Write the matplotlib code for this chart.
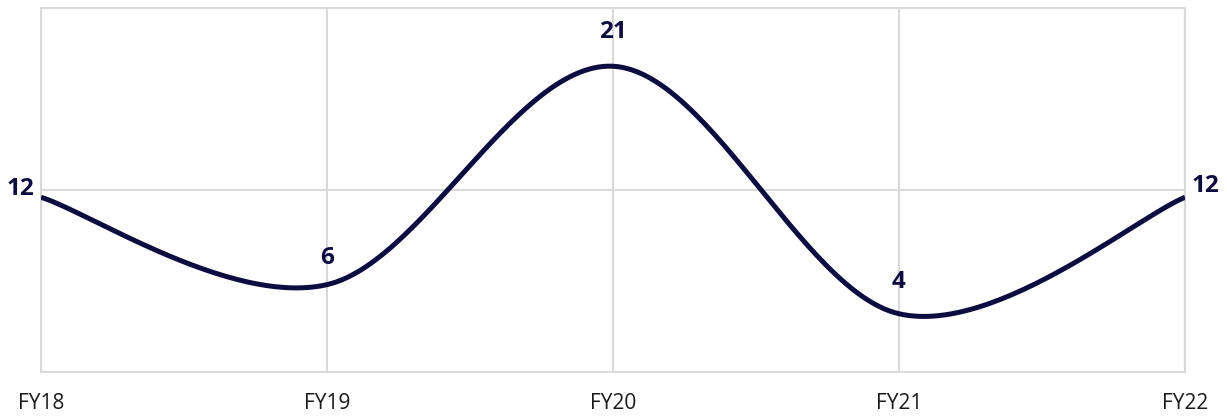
import numpy as np
import matplotlib
matplotlib.use("Agg")
import matplotlib.pyplot as plt

years = ["FY18", "FY19", "FY20", "FY21", "FY22"]
values = [12, 6, 21, 4, 12]

# label centre offset from each point, in pixels (dx, dy up)
label_offsets = [(-21, 8), (0, 27), (0, 34), (0, 32), (20, 11)]

NAVY = "#0c0c40"
GRID = "#d9d9d9"
PX = 72 / 100  # pixels -> points at dpi 100


def smooth_curve(x, y, n=60):
    """Bezier smoothing through every point, control points from neighbours."""
    pts = np.column_stack([x, y]).astype(float)
    padded = np.vstack([pts[0], pts, pts[-1]])
    out = []
    t = np.linspace(0, 1, n)[:, None]
    for i in range(len(pts) - 1):
        p0, p1, p2, p3 = padded[i], padded[i + 1], padded[i + 2], padded[i + 3]
        c1 = p1 + (p2 - p0) / 6
        c2 = p2 - (p3 - p1) / 6
        seg = ((1 - t) ** 3) * p1 + 3 * ((1 - t) ** 2) * t * c1 \
            + 3 * (1 - t) * t ** 2 * c2 + t ** 3 * p2
        out.append(seg if i == 0 else seg[1:])
    out = np.vstack(out)
    return out[:, 0], out[:, 1]


fig = plt.figure(figsize=(12.27, 4.16), dpi=100)
ax = fig.add_axes([41 / 1227, 44 / 416, 1144 / 1227, 364 / 416])

x = np.arange(len(years))
sx, sy = smooth_curve(x, values)
ax.plot(sx, sy, color=NAVY, linewidth=3.6, solid_capstyle="butt", zorder=3)

for xi, v, (dx, dy) in zip(x, values, label_offsets):
    ax.annotate(str(v), (xi, v), xytext=(dx * PX, dy * PX),
                textcoords="offset points", ha="center", va="center",
                fontsize=17.5, fontweight="bold", color=NAVY,
                fontfamily="Open Sans", zorder=4, annotation_clip=False)

ax.set_xlim(0, len(years) - 1)
ax.set_ylim(0, 25)
ax.set_xticks(x)
ax.set_xticklabels(years, fontsize=15, fontfamily="Open Sans", color="#1a1a1a")
ax.set_yticks([0, 12.5, 25])
ax.tick_params(axis="y", left=False, labelleft=False)
ax.tick_params(axis="x", length=0, pad=15)

ax.grid(True, color=GRID, linewidth=1.5, zorder=0)
for name, sp in ax.spines.items():
    sp.set_color(GRID)
    sp.set_linewidth(1.5)
ax.set_axisbelow(True)

fig.savefig("out.png", dpi=100)
